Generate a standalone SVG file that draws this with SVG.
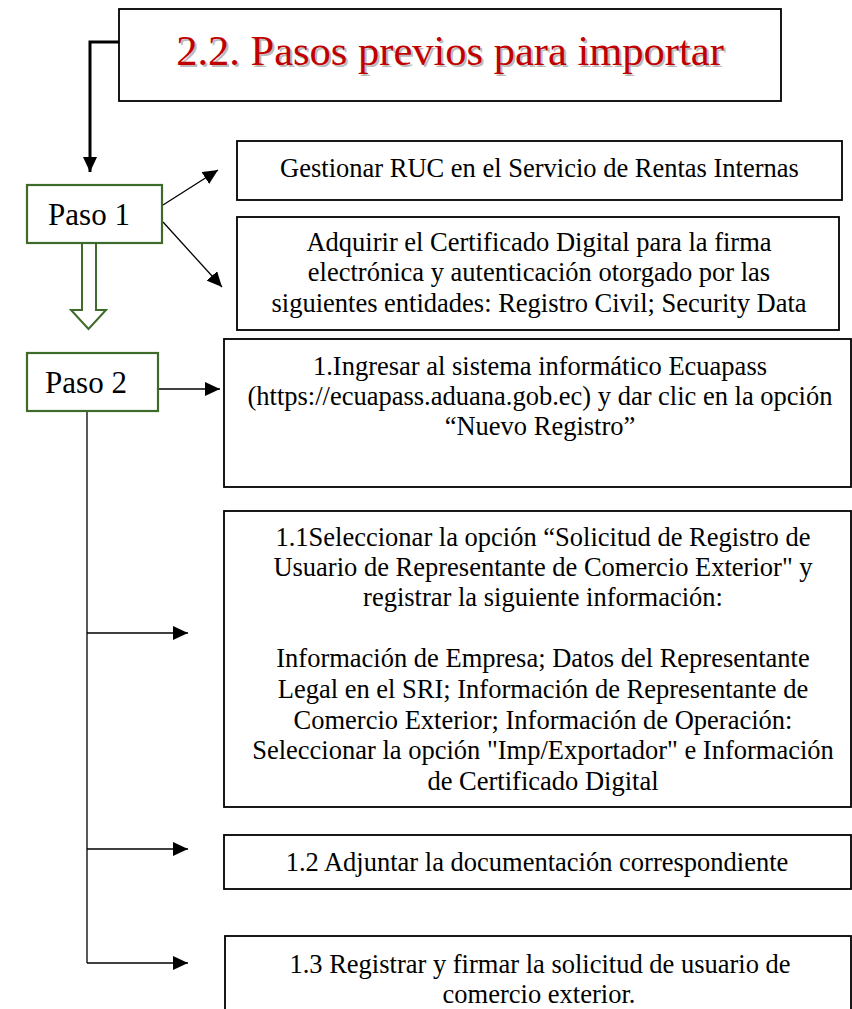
<svg xmlns="http://www.w3.org/2000/svg" width="852" height="1009" viewBox="0 0 852 1009">
<defs>
<style>
.box{fill:#fff;stroke:#000;stroke-width:1.8}
.gbox{fill:#fff;stroke:#3f6b2a;stroke-width:2.2}
text{font-family:'Liberation Serif','Times New Roman',serif}
.t{font-size:26.5px;fill:#000;text-anchor:middle}
.p{font-size:31px;fill:#000;text-anchor:middle}
.title{font-size:42.5px;text-anchor:middle}
.ln{fill:none;stroke:#000;stroke-width:1.3}
</style>
<marker id="ah" markerWidth="16" markerHeight="14" refX="15" refY="7" orient="auto" markerUnits="userSpaceOnUse">
<path d="M0,0 L15,7 L0,14 Z" fill="#000"/>
</marker>
</defs>
<rect width="852" height="1009" fill="#fff"/>

<g id="connectors">
<polyline points="119,42 90,42 90,172" fill="none" stroke="#000" stroke-width="3" marker-end="url(#ah)"/>
<line class="ln" x1="163" y1="205" x2="218" y2="170" marker-end="url(#ah)"/>
<line class="ln" x1="163" y1="222" x2="222" y2="287" marker-end="url(#ah)"/>
<polygon points="82,243 82,310 71,310 88.5,329 106,310 96,310 96,243" fill="#fff" stroke="#3f6b2a" stroke-width="2"/>
<line class="ln" x1="158" y1="389" x2="220" y2="389" marker-end="url(#ah)"/>
<line class="ln" x1="87" y1="411" x2="87" y2="963"/>
<line class="ln" x1="87" y1="633" x2="188" y2="633" marker-end="url(#ah)"/>
<line class="ln" x1="87" y1="849" x2="188" y2="849" marker-end="url(#ah)"/>
<line class="ln" x1="87" y1="963" x2="188" y2="963" marker-end="url(#ah)"/>
</g>

<g id="title">
<rect class="box" x="119" y="9" width="662" height="92"/>
<text class="title" x="452" y="67" fill="#bbb">2.2. Pasos previos para importar</text>
<text class="title" x="450" y="65" fill="#c00000">2.2. Pasos previos para importar</text>
</g>

<g id="paso1">
<rect class="gbox" x="27" y="185" width="135" height="58"/>
<text class="p" x="89" y="225">Paso 1</text>
</g>

<g id="ruc">
<rect class="box" x="237" y="141" width="605" height="59"/>
<text class="t" x="539.5" y="177">Gestionar RUC en el Servicio de Rentas Internas</text>
</g>

<g id="certificado">
<rect class="box" x="237" y="217" width="602" height="113"/>
<text class="t" x="539" y="251">Adquirir el Certificado Digital para la firma</text>
<text class="t" x="539" y="281">electrónica y autenticación otorgado por las</text>
<text class="t" x="539" y="312">siguientes entidades: Registro Civil; Security Data</text>
</g>

<g id="paso2">
<rect class="gbox" x="27" y="353" width="131" height="58"/>
<text class="p" x="86" y="393">Paso 2</text>
</g>

<g id="ingresar">
<rect class="box" x="224" y="339" width="627" height="148"/>
<text class="t" x="540" y="375">1.Ingresar al sistema informático Ecuapass</text>
<text class="t" x="540" y="405">(https://ecuapass.aduana.gob.ec) y dar clic en la opción</text>
<text class="t" x="540" y="435">“Nuevo Registro”</text>
</g>

<g id="seleccionar">
<rect class="box" x="224" y="511" width="627" height="296"/>
<text class="t" x="543" y="546">1.1Seleccionar la opción “Solicitud de Registro de</text>
<text class="t" x="543" y="576">Usuario de Representante de Comercio Exterior" y</text>
<text class="t" x="543" y="606">registrar la siguiente información:</text>
<text class="t" x="543" y="667">Información de Empresa; Datos del Representante</text>
<text class="t" x="543" y="698">Legal en el SRI; Información de Representante de</text>
<text class="t" x="543" y="729">Comercio Exterior; Información de Operación:</text>
<text class="t" x="543" y="759">Seleccionar la opción "Imp/Exportador" e Información</text>
<text class="t" x="543" y="790">de Certificado Digital</text>
</g>

<g id="adjuntar">
<rect class="box" x="224" y="835" width="627" height="54"/>
<text class="t" x="537" y="871">1.2 Adjuntar la documentación correspondiente</text>
</g>

<g id="registrar">
<rect class="box" x="225" y="936" width="626" height="90"/>
<text class="t" x="540" y="973">1.3 Registrar y firmar la solicitud de usuario de</text>
<text class="t" x="539" y="1003">comercio exterior.</text>
</g>
</svg>
